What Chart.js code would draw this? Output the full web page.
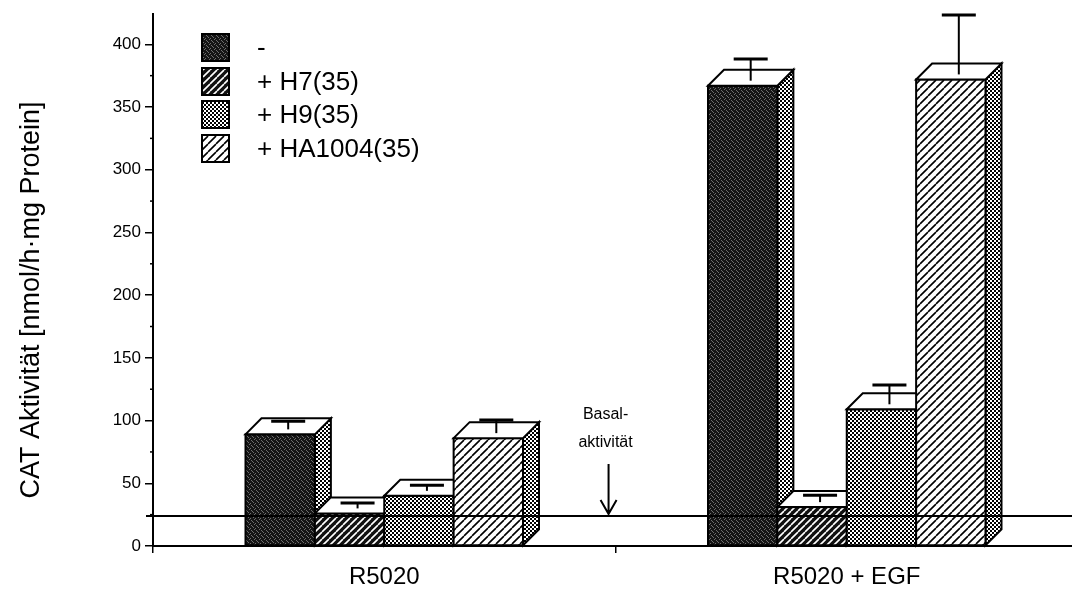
<!DOCTYPE html>
<html>
<head>
<meta charset="utf-8">
<script src="https://cdn.jsdelivr.net/npm/chart.js@4.4.0/dist/chart.umd.min.js"></script>
<style>
html, body { margin: 0; padding: 0; background: #fff; overflow: hidden; }
#wrap { width: 1078px; height: 593px; }
</style>
</head>
<body>
<div id="wrap"><canvas id="chart"></canvas></div>
<script>
// Werte
const categories = ['R5020', 'R5020 + EGF'];
const seriesLabels = ['-', '+ H7(35)', '+ H9(35)', '+ HA1004(35)'];
const ctrlValues = [89, 367];
const h7Values = [26, 31];
const h9Values = [40, 109];
const ha1004Values = [86, 372];
const ctrlErr = [4, 15];
const h7Err = [2, 3];
const h9Err = [2, 13];
const ha1004Err = [8, 45];
const basalValue = 24;
const basalText = ['Basal-', 'aktivität'];
const yTitle = 'CAT Aktivität [nmol/h·mg Protein]';
const yMax = 424;
const yStep = 25;
const yLabelStep = 50;

const FONT = '"Liberation Sans", Arial, Helvetica, sans-serif';
const DX = 16, DY = 16;   // Tiefe der 3D-Balken

function makePattern(size, draw) {
    const c = document.createElement('canvas');
    c.width = size;
    c.height = size;
    const g = c.getContext('2d');
    draw(g, size);
    return g.createPattern(c, 'repeat');
}

// dunkles Raster
const stipple = makePattern(5, (g, s) => {
    g.fillStyle = '#151515';
    g.fillRect(0, 0, s, s);
    g.fillStyle = '#6e6e6e';
    [[1, 0], [3, 2], [0, 3], [4, 4], [2, 1]].forEach(p => g.fillRect(p[0], p[1], 1, 1));
});

function stripes(size, bg, fg, w) {
    return makePattern(size, (g, s) => {
        g.fillStyle = bg;
        g.fillRect(0, 0, s, s);
        g.strokeStyle = fg;
        g.lineWidth = w;
        g.beginPath();
        [-s, 0, s].forEach(k => {
            g.moveTo(k, s);
            g.lineTo(k + s, 0);
        });
        g.stroke();
    });
}

const checker = makePattern(4, (g, s) => {
    g.fillStyle = '#fff';
    g.fillRect(0, 0, s, s);
    g.fillStyle = '#000';
    g.fillRect(0, 0, 2, 2);
    g.fillRect(2, 2, 2, 2);
});

const darkStripes = stripes(7, '#111', '#fff', 1.6);
const lightStripes = stripes(8, '#fff', '#000', 1.6);

// 3D-Balken selbst zeichnen (Seite, Front, Deckel, Fehlerbalken)
const bars3d = {
    id: 'bars3d',
    beforeDatasetsDraw(chart) {
        const ctx = chart.ctx;
        const yScale = chart.scales.y;
        const n = chart.data.labels.length;
        for (let i = 0; i < n; i++) {
            chart.data.datasets.forEach((ds, d) => {
                const el = chart.getDatasetMeta(d).data[i];
                const left = el.x - el.width / 2;
                const right = el.x + el.width / 2;
                const top = el.y;
                const base = el.base;
                ctx.save();
                ctx.lineJoin = 'miter';
                ctx.strokeStyle = '#000';
                ctx.lineWidth = 2;

                // Seitenfläche
                ctx.beginPath();
                ctx.moveTo(right, base);
                ctx.lineTo(right, top);
                ctx.lineTo(right + DX, top - DY);
                ctx.lineTo(right + DX, base - DY);
                ctx.closePath();
                ctx.fillStyle = checker;
                ctx.fill();
                ctx.stroke();

                // Front
                ctx.fillStyle = ds.backgroundColor;
                ctx.fillRect(left, top, right - left, base - top);
                ctx.strokeRect(left, top, right - left, base - top);

                // Deckel
                ctx.beginPath();
                ctx.moveTo(left, top);
                ctx.lineTo(left + DX, top - DY);
                ctx.lineTo(right + DX, top - DY);
                ctx.lineTo(right, top);
                ctx.closePath();
                ctx.fillStyle = '#fff';
                ctx.fill();
                ctx.stroke();

                // Fehlerbalken
                const cx = el.x + DX / 2;
                const cy = top - DY / 2;
                const ey = yScale.getPixelForValue(ds.data[i] + ds.errors[i]) - DY / 2;
                ctx.beginPath();
                ctx.moveTo(cx, cy + 3);
                ctx.lineTo(cx, ey);
                ctx.stroke();
                ctx.lineWidth = 3;
                ctx.beginPath();
                ctx.moveTo(cx - 17, ey);
                ctx.lineTo(cx + 17, ey);
                ctx.stroke();
                ctx.restore();
            });
        }
        return false;
    },
    afterDraw(chart) {
        const ctx = chart.ctx;
        const xs = chart.scales.x;
        const ys = chart.scales.y;
        const area = chart.chartArea;
        ctx.save();
        ctx.strokeStyle = '#000';
        ctx.fillStyle = '#000';

        // y-Achsentitel
        ctx.save();
        ctx.translate(32, 300);
        ctx.rotate(-Math.PI / 2);
        ctx.font = '27px ' + FONT;
        ctx.textAlign = 'center';
        ctx.textBaseline = 'middle';
        ctx.fillText(yTitle, 0, 0);
        ctx.restore();

        // kleine Zwischenstriche an der y-Achse
        ctx.lineWidth = 1.5;
        ys.ticks.forEach(t => {
            if (t.value % yLabelStep !== 0) {
                const py = ys.getPixelForValue(t.value);
                ctx.beginPath();
                ctx.moveTo(area.left - 3, py);
                ctx.lineTo(area.left + 1, py);
                ctx.stroke();
            }
        });

        // Basalaktivität
        const by = ys.getPixelForValue(basalValue);
        ctx.lineWidth = 2;
        ctx.beginPath();
        ctx.moveTo(area.left - 7, by);
        ctx.lineTo(chart.width, by);
        ctx.stroke();

        const ax = xs.getPixelForValue(0.485);
        ctx.beginPath();
        ctx.moveTo(ax, by - 52);
        ctx.lineTo(ax, by - 2);
        ctx.moveTo(ax - 8, by - 16);
        ctx.lineTo(ax, by - 2);
        ctx.lineTo(ax + 8, by - 16);
        ctx.stroke();

        ctx.font = '16px ' + FONT;
        ctx.textAlign = 'center';
        ctx.textBaseline = 'alphabetic';
        ctx.fillText(basalText[0], ax - 3, by - 97);
        ctx.fillText(basalText[1], ax - 3, by - 69);

        // Legende
        const lx = 202, ly = 34, box = 27, gap = 33.5;
        ctx.font = '26px ' + FONT;
        ctx.textAlign = 'left';
        ctx.textBaseline = 'middle';
        chart.data.datasets.forEach((ds, i) => {
            const y0 = Math.round(ly + i * gap);
            ctx.fillStyle = ds.backgroundColor;
            ctx.fillRect(lx, y0, box, box);
            ctx.lineWidth = 2;
            ctx.strokeRect(lx, y0, box, box);
            ctx.fillStyle = '#000';
            ctx.fillText(ds.label, lx + 55, y0 + box / 2 + 1);
        });
        ctx.restore();
    }
};

const fills = [stipple, darkStripes, checker, lightStripes];
const valueSets = [ctrlValues, h7Values, h9Values, ha1004Values];
const errorSets = [ctrlErr, h7Err, h9Err, ha1004Err];

new Chart(document.getElementById('chart'), {
    type: 'bar',
    data: {
        labels: categories,
        datasets: seriesLabels.map((label, i) => ({
            label: label,
            data: valueSets[i],
            errors: errorSets[i],
            backgroundColor: fills[i],
            borderColor: '#000',
            borderWidth: 2,
            categoryPercentage: 0.6,
            barPercentage: 1.0
        }))
    },
    options: {
        responsive: true,
        maintainAspectRatio: false,
        animation: false,
        layout: { padding: { top: 11, left: 0, right: 0, bottom: 0 } },
        plugins: {
            legend: { display: false },
            tooltip: { enabled: false }
        },
        scales: {
            x: {
                offset: true,
                grid: { display: true, drawOnChartArea: false, offset: true, color: '#000', lineWidth: 1.5, tickLength: 7 },
                border: { color: '#000', width: 2 },
                ticks: { color: '#000', font: { family: FONT, size: 24 }, padding: 10 },
                afterFit(s) { s.height = 47; }
            },
            y: {
                min: 0,
                max: yMax,
                afterBuildTicks(s) { s.ticks = s.ticks.filter(t => t.value % yStep === 0); },
                ticks: {
                    stepSize: yStep,
                    color: '#000',
                    font: { family: FONT, size: 17 },
                    padding: 4,
                    callback: v => (v % yLabelStep === 0 ? v : '')
                },
                grid: {
                    drawOnChartArea: false,
                    tickLength: 8,
                    lineWidth: 1.5,
                    color: c => (c.tick && c.tick.value % yLabelStep === 0 ? '#000' : 'rgba(0,0,0,0)')
                },
                border: { color: '#000', width: 2 },
                afterFit(s) { s.width = 153; }
            }
        }
    },
    plugins: [bars3d]
});
</script>
</body>
</html>
